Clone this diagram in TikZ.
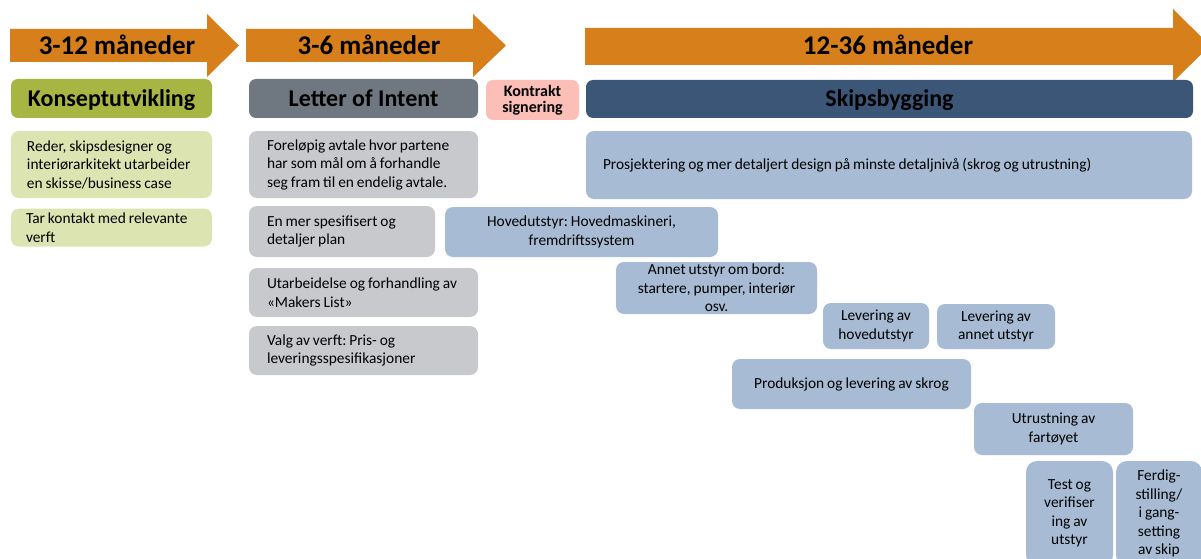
\documentclass[tikz,border=0pt]{standalone}
\usepackage{fontspec}
\setmainfont{Carlito}
\definecolor{arrowor}{HTML}{D77F1A}
\definecolor{olive}{HTML}{A7B543}
\definecolor{lgreen}{HTML}{DCE4B1}
\definecolor{dgray}{HTML}{6F7781}
\definecolor{lgray}{HTML}{C7C9CC}
\definecolor{pinkc}{HTML}{FBBFB7}
\definecolor{dblue}{HTML}{3B5676}
\definecolor{lblue}{HTML}{A7BCD4}
\newcommand\mytightsp{\frenchspacing\spaceskip=0.19em plus 0.05em\relax\xspaceskip=0.19em plus 0.05em\relax\hyphenpenalty=10000\relax\exhyphenpenalty=10000\relax}
\tikzset{
  box/.style={rounded corners=8pt, inner xsep=3pt, inner ysep=0pt, align=center,
    font=\fontsize{15.4}{18.5}\selectfont, fill=lblue,
    execute at begin node=\mytightsp},
  lbox/.style={box, align=left},
  headbox/.style={rounded corners=7pt, inner sep=0pt,
    font=\bfseries\fontsize{24}{28}\selectfont, text height=15.5pt, text depth=0pt},
  atext/.style={font=\bfseries\fontsize{27}{32}\selectfont, text height=17.4pt,
    text depth=0pt, inner sep=0pt},
}
\begin{document}
\begin{tikzpicture}[x=1pt,y=-1pt]
\useasboundingbox[fill=white] (0,0) rectangle (1201,559);
\clip (0,0) rectangle (1201,559);

% arrows
\fill[arrowor] (10,29) -- (207,29) -- (207,14) -- (239,45.5) -- (207,77) -- (207,62) -- (10,62) -- cycle;
\fill[arrowor] (246,29) -- (473,29) -- (473,14) -- (506,45.5) -- (473,77) -- (473,62) -- (246,62) -- cycle;
\fill[arrowor] (585,28) -- (1173,28) -- (1173,9) -- (1210,45.5) -- (1173,82) -- (1173,65) -- (585,65) -- cycle;
\node[atext] (a1) at (117,46) {3-12 måneder};
\node[atext] (a2) at (369,46) {3-6 måneder};
\node[atext] (a3) at (888,46) {12-36 måneder};

% headings
\node[headbox, fill=olive, minimum width=201pt, minimum height=39pt] (kon) at (111.5,98.5) {Konseptutvikling};
\node[headbox, fill=dgray, minimum width=229pt, minimum height=39pt] (loi) at (363.5,98.5) {Letter of Intent};
\node[rounded corners=7pt, inner sep=0pt, fill=pinkc, minimum width=93pt, minimum height=40pt, align=center,
  font=\bfseries\fontsize{16}{16}\selectfont] (kontr) at (532.5,100) {Kontrakt\\signering};
\node[headbox, fill=dblue, minimum width=607pt, minimum height=38pt] (skip) at (889.5,99) {Skipsbygging};

% green column
\node[lbox, fill=lgreen, inner xsep=16pt, text width=169pt, minimum height=67pt] (g1) at (111.5,164.5)
  {Reder, skipsdesigner og\\interiørarkitekt utarbeider\\en skisse/business case};
\node[lbox, fill=lgreen, inner xsep=15pt, text width=171pt, minimum height=38pt] (g2) at (111.5,227.5)
  {Tar kontakt med relevante\\verft};

% gray column
\node[lbox, fill=lgray, inner xsep=18pt, text width=193pt, minimum height=67pt] (e1) at (363.5,164.5)
  {Foreløpig avtale hvor partene\\har som mål om å forhandle\\seg fram til en endelig avtale.};
\node[lbox, fill=lgray, inner xsep=18pt, text width=150pt, minimum height=51pt] (e2) at (342,231.5)
  {En mer spesifisert og\\detaljer plan};
\node[lbox, fill=lgray, inner xsep=18pt, text width=193pt, minimum height=49pt] (e3) at (363.5,292.5)
  {Utarbeidelse og forhandling av\\«Makers List»};
\node[lbox, fill=lgray, inner xsep=18pt, text width=193pt, minimum height=49pt] (e4) at (363.5,350.5)
  {Valg av verft: Pris- og\\leveringsspesifikasjoner};

% blue boxes
\node[lbox, inner xsep=17pt, text width=572pt, minimum height=68pt] (b1) at (889,165)
  {Prosjektering og mer detaljert design på minste detaljnivå (skrog og utrustning)};
\node[box, minimum width=273pt, minimum height=50pt] (b2) at (581.5,232)
  {Hovedutstyr: Hovedmaskineri,\\fremdriftssystem};
\node[box, minimum width=201pt, minimum height=52pt] (b3) at (716.5,288)
  {Annet utstyr om bord:\\startere, pumper, interiør\\osv.};
\node[box, minimum width=106pt, minimum height=46pt] (b4) at (876,326)
  {Levering av\\hovedutstyr};
\node[box, minimum width=118pt, minimum height=45pt] (b5) at (996,326.5)
  {Levering av\\annet utstyr};
\node[box, minimum width=239pt, minimum height=50pt] (b6) at (851.5,384)
  {Produksjon og levering av skrog};
\node[box, minimum width=159pt, minimum height=52pt] (b7) at (1053.5,429)
  {Utrustning av\\fartøyet};
\node[box, rounded corners=11pt, minimum width=87pt, minimum height=105pt] (b8) at (1069.5,513.5)
  {Test og\\verifiser\\ing av\\utstyr};
\node[box, rounded corners=11pt, minimum width=86pt, minimum height=105pt] (b9) at (1159,513.5)
  {Ferdig-\\stilling/\\i gang-\\setting\\av skip};
\end{tikzpicture}
\end{document}
